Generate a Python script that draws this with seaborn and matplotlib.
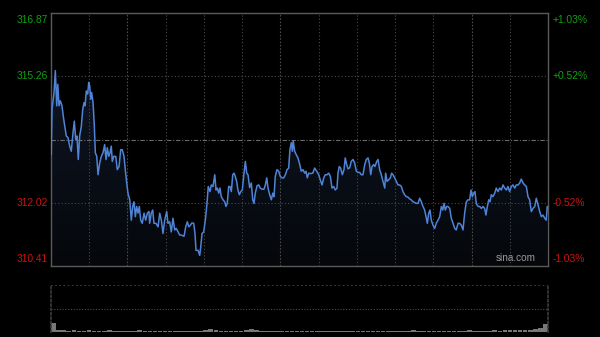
import numpy as np
import pandas as pd
import seaborn as sns
import matplotlib
matplotlib.use("Agg")
import matplotlib.pyplot as plt
from matplotlib.patches import PathPatch

# ---------------- data ----------------
prev_close = 313.64
y_labels_left = ["316.87", "315.26", "312.02", "310.41"]
y_label_values = [316.87, 315.26, 312.02, 310.41]
y_labels_right = ["+1.03%", "+0.52%", "-0.52%", "-1.03%"]

minutes = [0.2, 0.8, 2.4, 3.4, 4.5, 5.3, 6.3, 7.3, 8.6, 10.0, 12.0, 13.3, 14.7, 15.9, 17.3, 18.3,
           19.4, 20.4, 21.4, 22.5, 23.8, 24.9, 25.9, 26.7, 27.7, 28.8, 29.6, 30.4, 31.2, 31.9, 33.0,
           34.0, 34.8, 35.9, 36.9, 38.2, 39.5, 40.8, 42.1, 43.2, 44.2, 45.3, 46.3, 47.3, 48.1, 49.2,
           50.8, 52.0, 53.4, 54.7, 55.9, 57.3, 58.3, 59.4, 60.4, 61.8, 63.0, 64.1, 65.1, 66.2, 67.2,
           68.3, 69.3, 70.4, 71.6, 73.0, 74.3, 75.6, 76.9, 77.4, 78.7, 79.8, 80.8, 82.4, 84.0, 85.3,
           86.6, 87.9, 89.2, 90.8, 91.8, 93.1, 94.4, 95.7, 97.1, 98.3, 99.7, 101.0, 102.2, 104.4,
           105.7, 107.0, 108.1, 109.3, 110.6, 112.0, 113.0, 113.8, 115.4, 116.7, 117.5, 118.5, 119.8,
           121.1, 122.4, 123.4, 124.8, 125.8, 127.1, 128.5, 129.5, 130.5, 131.6, 132.6, 133.6, 135.0,
           136.3, 137.3, 138.3, 139.4, 140.5, 141.5, 142.6, 143.6, 144.6, 145.7, 146.7, 147.8, 148.9,
           150.1, 151.2, 152.5, 153.6, 154.6, 155.9, 157.2, 158.3, 159.3, 160.3, 161.7, 163.0, 164.2,
           165.6, 167.1, 168.2, 169.3, 170.3, 171.6, 172.9, 174.0, 175.0, 176.0, 177.3, 178.7, 179.9,
           181.3, 182.6, 183.9, 185.2, 186.5, 187.5, 188.6, 189.4, 190.1, 191.2, 192.5, 193.8, 195.2,
           196.4, 197.7, 199.1, 200.1, 201.1, 202.2, 203.8, 205.4, 206.9, 208.5, 210.1, 211.3, 212.7,
           214.0, 215.2, 216.6, 217.9, 219.2, 220.5, 221.8, 223.1, 224.4, 225.2, 226.2, 227.3, 228.6,
           229.9, 230.9, 232.0, 233.1, 234.4, 235.6, 237.0, 238.3, 239.6, 240.9, 242.2, 243.5, 244.8,
           246.2, 247.4, 248.8, 249.8, 250.9, 251.9, 253.2, 254.2, 255.6, 256.6, 257.9, 259.2, 260.5,
           261.9, 262.6, 263.7, 265.0, 266.3, 267.3, 268.4, 269.7, 271.0, 272.3, 273.6, 274.9, 276.2,
           277.5, 278.8, 280.1, 281.5, 282.7, 284.1, 285.4, 286.7, 288.0, 289.3, 290.6, 291.9, 293.2,
           294.3, 295.3, 296.4, 297.4, 298.4, 299.8, 301.1, 302.3, 303.7, 305.0, 306.3, 307.4, 308.4,
           309.4, 310.5, 311.5, 312.9, 314.1, 315.5, 316.8, 318.0, 319.4, 320.7, 322.0, 323.3, 324.6,
           325.9, 327.2, 328.5, 329.6, 330.6, 331.7, 332.7, 333.7, 335.1, 336.4, 337.7, 339.0, 340.3,
           341.3, 342.4, 343.5, 344.5, 345.5, 346.8, 348.2, 349.4, 350.8, 352.1, 353.4, 354.7, 356.0,
           357.3, 358.6, 359.9, 361.2, 362.5, 363.9, 365.1, 366.5, 367.8, 369.0, 370.4, 371.7, 373.0,
           374.3, 375.6, 376.9, 378.2, 379.6, 380.8, 382.2, 383.5, 384.8, 386.1, 387.4, 388.6, 389.4]

prices = [313.25, 314.41, 314.85, 315.40, 314.50, 315.05, 314.50, 314.63, 314.50, 314.15, 313.73, 313.69,
          313.47, 313.34, 313.82, 314.11, 313.64, 313.73, 313.13, 313.73, 313.98, 314.41, 314.58, 314.50,
          314.88, 314.80, 315.10, 315.01, 314.67, 314.84, 314.58, 313.98, 313.30, 313.21, 312.74, 313.04,
          313.21, 313.30, 313.51, 313.13, 313.43, 313.21, 313.30, 313.47, 313.08, 313.21, 313.21, 312.87,
          312.95, 313.38, 313.38, 313.21, 312.87, 312.53, 312.27, 312.10, 311.58, 311.93, 312.05, 311.67,
          311.93, 311.76, 311.93, 311.58, 311.50, 311.76, 311.58, 311.76, 311.80, 311.50, 311.76, 311.84,
          311.50, 311.50, 311.41, 311.76, 311.58, 311.24, 311.58, 311.80, 311.50, 311.54, 311.28, 311.63,
          311.33, 311.37, 311.28, 311.20, 311.20, 311.17, 311.41, 311.54, 311.41, 311.45, 311.51, 311.50,
          311.24, 310.81, 310.81, 310.68, 310.90, 311.24, 311.28, 311.58, 312.01, 312.44, 312.31, 312.48,
          312.44, 312.74, 312.35, 312.40, 312.27, 312.40, 312.18, 312.10, 312.05, 311.93, 312.01, 312.44,
          312.44, 312.31, 312.74, 312.78, 312.70, 312.57, 312.35, 312.23, 312.31, 312.35, 312.70, 313.08,
          312.78, 312.74, 312.41, 312.53, 312.10, 312.01, 312.27, 312.46, 312.48, 312.40, 312.37, 312.37,
          312.48, 312.66, 312.40, 312.23, 312.10, 312.27, 312.18, 312.70, 312.87, 312.83, 312.70, 312.66,
          312.66, 312.74, 312.87, 312.91, 313.38, 313.56, 313.34, 313.60, 313.34, 313.25, 313.17, 313.00,
          312.83, 312.87, 312.78, 312.83, 312.66, 312.78, 312.77, 312.78, 312.91, 312.83, 312.74, 312.61,
          312.48, 312.66, 312.74, 312.74, 312.78, 312.70, 312.40, 312.44, 312.35, 312.40, 312.78, 312.95,
          312.91, 312.74, 312.87, 313.17, 313.00, 312.89, 312.92, 313.08, 313.13, 313.04, 312.83, 312.80,
          312.80, 312.74, 312.74, 313.00, 313.13, 313.17, 313.04, 312.74, 312.95, 313.00, 312.95, 313.08,
          313.13, 312.87, 312.74, 312.57, 312.40, 312.78, 312.57, 312.61, 312.66, 312.78, 312.74, 312.66,
          312.57, 312.48, 312.48, 312.44, 312.31, 312.23, 312.18, 312.17, 312.12, 312.10, 312.05, 312.03,
          312.01, 312.01, 312.14, 312.05, 311.93, 311.84, 311.67, 311.50, 311.76, 311.84, 311.58, 311.45,
          311.37, 311.50, 311.58, 311.67, 311.93, 311.84, 312.01, 311.84, 311.93, 311.93, 311.88, 311.63,
          311.50, 311.37, 311.33, 311.50, 311.50, 311.45, 311.33, 311.76, 312.05, 312.10, 312.10, 312.35,
          312.18, 312.27, 312.31, 312.01, 311.93, 311.93, 311.88, 311.93, 311.88, 311.71, 311.93, 312.10,
          312.05, 312.23, 312.18, 312.27, 312.40, 312.31, 312.40, 312.35, 312.48, 312.40, 312.35, 312.44,
          312.31, 312.44, 312.48, 312.40, 312.48, 312.48, 312.53, 312.63, 312.53, 312.48, 312.44, 312.18,
          312.10, 311.80, 311.88, 311.93, 312.14, 311.97, 311.80, 311.67, 311.71, 311.63, 311.58, 311.93]

volume = [20, 5, 4, 3, 4, 3, 3, 4, 3, 2, 3, 4, 3, 3, 2, 3, 3, 4, 3, 2, 3, 3, 2, 3, 3, 2, 3, 2, 3, 3,
          5, 6, 4, 3, 3, 2, 3, 3, 4, 6, 5, 3, 3, 2, 3, 2, 2, 3, 3, 2, 3, 2, 3, 3, 2, 3, 2, 2, 3, 2,
          3, 3, 2, 3, 3, 2, 3, 3, 2, 3, 3, 4, 3, 3, 2, 3, 3, 3, 2, 3, 3, 3, 4, 3, 3, 3, 3, 4, 3, 4,
          4, 4, 5, 4, 5, 6, 8, 18]
volume_max = 100

# ---------------- figure ----------------
sns.set_theme(style="dark")
plt.rcParams['font.family'] = ['Liberation Sans', 'DejaVu Sans']

W, H = 600, 337
fig = plt.figure(figsize=(W / 100, H / 100), dpi=100, facecolor='black')

def fx(px):
    return px / W

def fy(py):
    return 1 - py / H

L, R = 51, 548
T1, B1 = 13, 266
T2, B2 = 285, 332

ax = fig.add_axes([fx(L), fy(B1), fx(R) - fx(L), fy(T1) - fy(B1)])
axv = fig.add_axes([fx(L), fy(B2), fx(R) - fx(L), fy(T2) - fy(B2)])

ymin, ymax = y_label_values[-1], y_label_values[0]

for a in (ax, axv):
    a.set_facecolor('black')
    a.set_xticks([])
    a.set_yticks([])
    a.grid(False)
    a.set_xlim(0, 390)

ax.set_ylim(ymin, ymax)

df = pd.DataFrame({"minute": minutes, "price": prices})

# gradient fill under line
fill = ax.fill_between(df["minute"], df["price"], ymin, color='none', lw=0)
path = fill.get_paths()[0]
grad = np.linspace(1, 0, 256).reshape(-1, 1)
from matplotlib.colors import LinearSegmentedColormap
cmap = LinearSegmentedColormap.from_list("g", ["#05070b", "#111a2c"])
im = ax.imshow(grad, cmap=cmap, aspect='auto', extent=[0, 390, ymin, ymax],
               origin='upper', zorder=1, interpolation='bilinear')
im.set_array(np.linspace(0, 1, 256).reshape(-1, 1)[::-1])
patch = PathPatch(path, transform=ax.transData, facecolor='none', edgecolor='none')
ax.add_patch(patch)
im.set_clip_path(patch)

# grid lines
grid_c = '#4a4a4a'
for k in range(1, 13):
    ls = (0, (1.5, 1.5)) if k in (2, 6, 11) else (0, (1, 2))
    ax.axvline(k * 30, color=grid_c, lw=0.8, ls=ls, zorder=2)
for v in (y_label_values[1], y_label_values[2]):
    ax.axhline(v, color=grid_c, lw=0.8, ls=(0, (1, 2)), zorder=2)
ax.axhline(prev_close, color='#6a6a6a', lw=0.8, ls=(0, (4, 1.5, 1, 1.5)), zorder=2)

sns.lineplot(data=df, x="minute", y="price", ax=ax, color='#4f83d6', lw=1.1, zorder=4)
ax.set_xlabel("")
ax.set_ylabel("")
ax.set_xlim(0, 390)
ax.set_ylim(ymin, ymax)

for s in ax.spines.values():
    s.set_visible(True)
    s.set_color('#5a5a5a')
    s.set_linewidth(1.0)

# labels
for lab, v, rl in zip(y_labels_left, y_label_values, y_labels_right):
    color = '#10a010' if v > prev_close else '#d01010'
    va = 'center'
    if v == ymax:
        va = 'top'
        yy = v - 0.04
    elif v == ymin:
        va = 'bottom'
        yy = v + 0.04
    else:
        yy = v
    ax.text(-0.007, yy, lab, transform=ax.get_yaxis_transform(), ha='right', va=va,
            color=color, fontsize=7.4)
    ax.text(1.01, yy, rl, transform=ax.get_yaxis_transform(), ha='left', va=va,
            color=color, fontsize=7.4)

ax.text(0.975, 0.012, "sina.com", transform=ax.transAxes, ha='right', va='bottom',
        color='#9a9a9a', fontsize=7.2, zorder=5)

# volume panel
vol_t = np.arange(len(volume)) * (390 / len(volume)) + (390 / len(volume)) / 2
axv.bar(vol_t, volume, width=390 / len(volume) * 0.9, color='#777777', lw=0)
axv.set_ylim(0, volume_max)
axv.axhline(volume_max / 2, color=grid_c, lw=0.8, ls=(0, (1, 1.5)))
axv.axhline(volume_max, color=grid_c, lw=1.2, ls=(0, (1, 1.5)))
for s in ('top', 'bottom'):
    axv.spines[s].set_visible(False)
for s in ('left', 'right'):
    axv.spines[s].set_visible(True)
    axv.spines[s].set_color('#3a3a3a')
    axv.spines[s].set_linestyle((0, (1, 1.5)))
axv.axhline(0, color='#555555', lw=0.8)

fig.savefig("out.png", dpi=100, facecolor='black')
